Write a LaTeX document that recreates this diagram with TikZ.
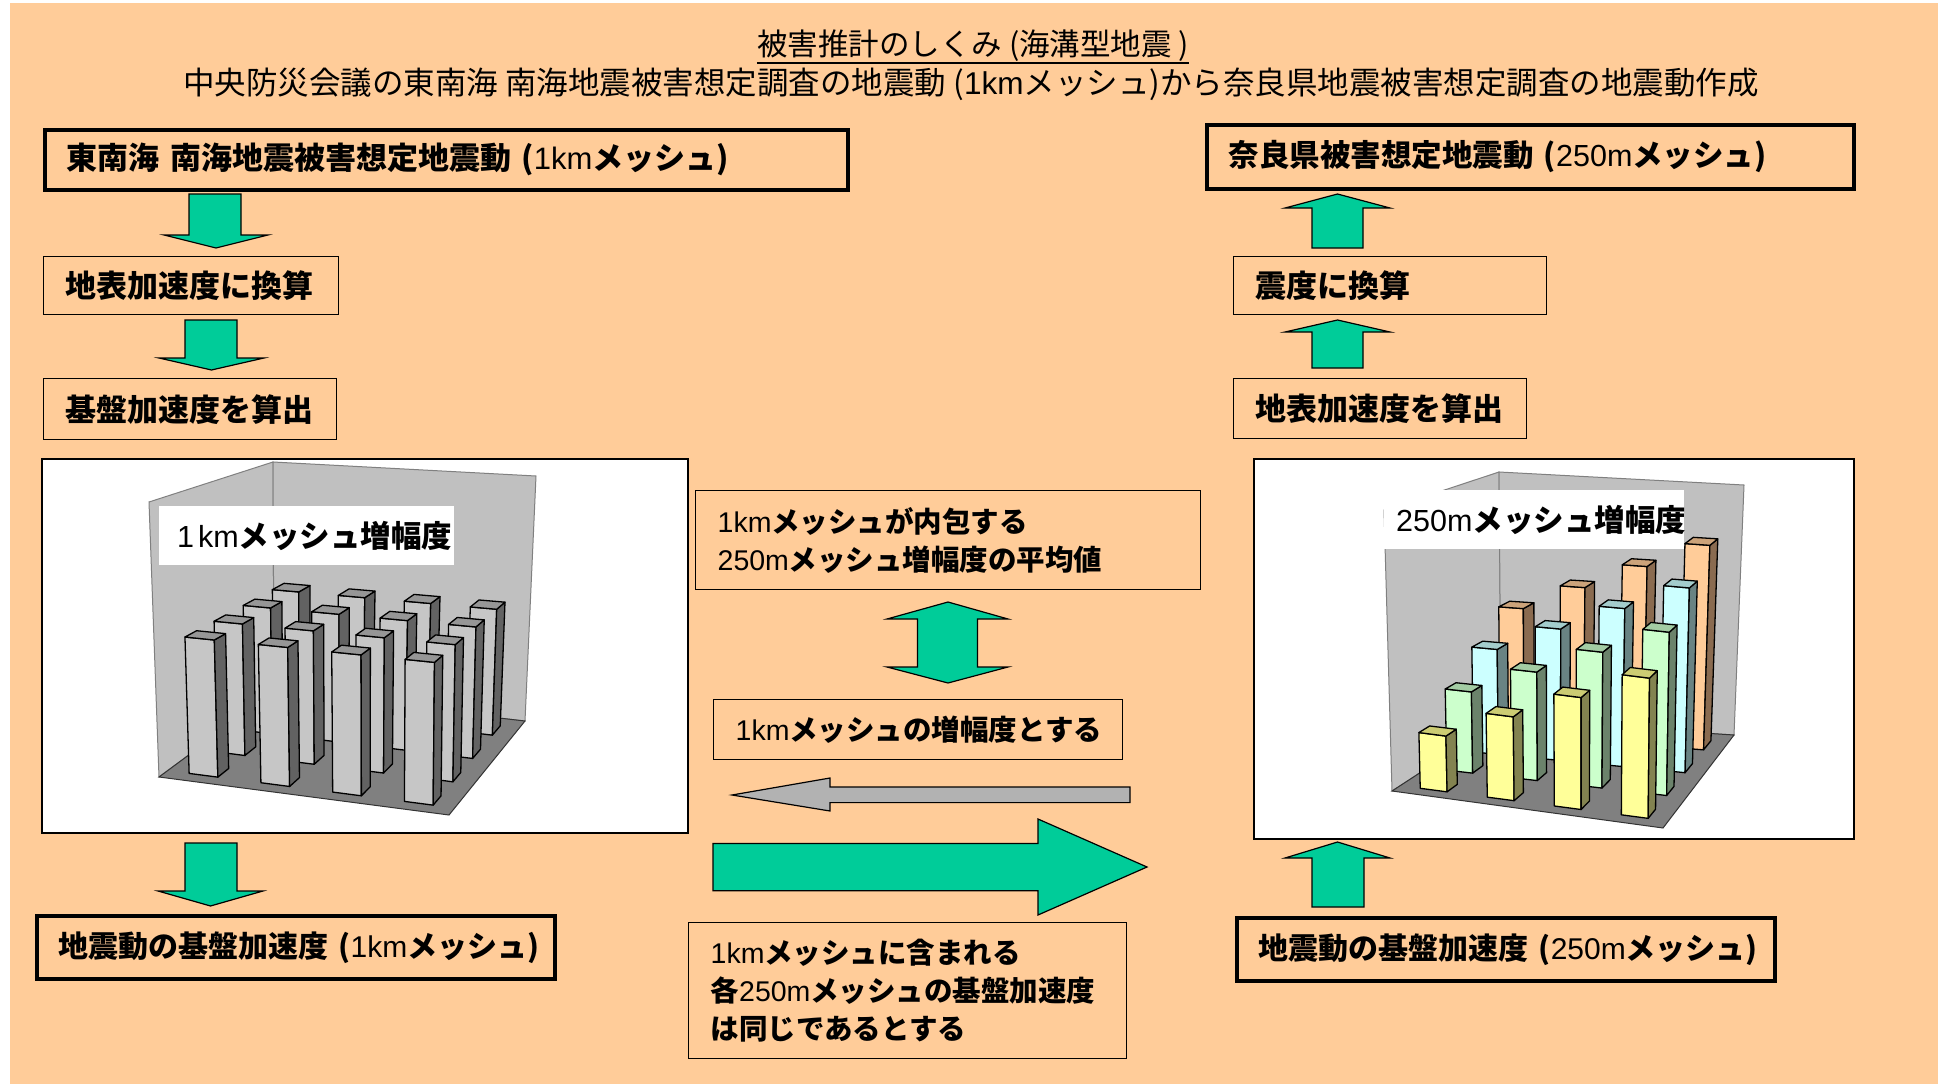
\documentclass[tikz,border=0pt]{standalone}
\usepackage{fontspec}
\setmainfont{Noto Sans CJK JP}
\newfontfamily\lat{Liberation Sans}
\newcommand\nm[1]{{\lat\mdseries #1}}
\definecolor{peach}{HTML}{FFCC99}
\definecolor{grn}{HTML}{00CC99}
\definecolor{garw}{HTML}{B2B2B2}
\definecolor{wall}{HTML}{C0C0C0}
\definecolor{floorc}{HTML}{808080}
\definecolor{gF}{HTML}{C6C6C6}
\definecolor{gS}{HTML}{626262}
\definecolor{gT}{HTML}{969696}
\definecolor{yeF}{HTML}{FFFF99}
\definecolor{yeS}{HTML}{838350}
\definecolor{yeT}{HTML}{CCCC73}
\definecolor{grF}{HTML}{CCFFCC}
\definecolor{grS}{HTML}{6B836B}
\definecolor{grT}{HTML}{A3CCA3}
\definecolor{cyF}{HTML}{CCFFFF}
\definecolor{cyS}{HTML}{698383}
\definecolor{cyT}{HTML}{A3CCCC}
\definecolor{pkF}{HTML}{FFCC99}
\definecolor{pkS}{HTML}{8A6B50}
\definecolor{pkT}{HTML}{CCA37A}
\newcommand\setfloor[8]{\def\fFLx{#1}\def\fFLy{#2}\def\fFRx{#3}\def\fFRy{#4}\def\fBRx{#5}\def\fBRy{#6}\def\fBLx{#7}\def\fBLy{#8}}
\newcommand\setceil[8]{\def\cFLx{#1}\def\cFLy{#2}\def\cFRx{#3}\def\cFRy{#4}\def\cBRx{#5}\def\cBRy{#6}\def\cBLx{#7}\def\cBLy{#8}}
\newcommand\tp[4]{%
 \pgfmathsetmacro\tpa{(1-(#2))*(1-(#3))}%
 \pgfmathsetmacro\tpb{(#2)*(1-(#3))}%
 \pgfmathsetmacro\tpc{(1-(#2))*(#3)}%
 \pgfmathsetmacro\tpd{(#2)*(#3)}%
 \pgfmathsetmacro\tpx{(1-(#4))*(\tpa*\fFLx+\tpb*\fFRx+\tpc*\fBLx+\tpd*\fBRx)+(#4)*(\tpa*\cFLx+\tpb*\cFRx+\tpc*\cBLx+\tpd*\cBRx)}%
 \pgfmathsetmacro\tpy{(1-(#4))*(\tpa*\fFLy+\tpb*\fFRy+\tpc*\fBLy+\tpd*\fBRy)+(#4)*(\tpa*\cFLy+\tpb*\cFRy+\tpc*\cBLy+\tpd*\cBRy)}%
 \coordinate (#1) at (\tpx,\tpy);%
}
\newcommand\chartbar[6]{%
 \pgfmathsetmacro\ua{((#1)+0.3)/4}\pgfmathsetmacro\ub{((#1)+0.7)/4}%
 \pgfmathsetmacro\va{((#2)+0.3)/4}\pgfmathsetmacro\vb{((#2)+0.7)/4}%
 \tp{pA}{\ua}{\va}{0}\tp{pB}{\ub}{\va}{0}\tp{pC}{\ub}{\vb}{0}%
 \tp{qA}{\ua}{\va}{#3}\tp{qB}{\ub}{\va}{#3}\tp{qC}{\ub}{\vb}{#3}\tp{qD}{\ua}{\vb}{#3}%
 \draw[barline, fill=#4] (pA) -- (pB) -- (qB) -- (qA) -- cycle;
 \draw[barline, fill=#5] (pB) -- (pC) -- (qC) -- (qB) -- cycle;
 \draw[barline, fill=#6] (qA) -- (qB) -- (qC) -- (qD) -- cycle;
}
\newcommand\chartwalls{%
 \draw[wallst] (\cFLx,\cFLy) -- (\cBLx,\cBLy) -- (\fBLx,\fBLy) -- (\fFLx,\fFLy) -- cycle;
 \draw[wallst] (\cBLx,\cBLy) -- (\cBRx,\cBRy) -- (\fBRx,\fBRy) -- (\fBLx,\fBLy) -- cycle;
 \draw[floorst] (\fFLx,\fFLy) -- (\fFRx,\fFRy) -- (\fBRx,\fBRy) -- (\fBLx,\fBLy) -- cycle;
}
\newcommand\garr[7]{\draw[garrow] (#1,#3) -- (#2,#3) -- (#2,#4) -- (#6,#4) -- ({(#5+#6)/2},#7) -- (#5,#4) -- (#1,#4) -- cycle;}
\tikzset{
 bx/.style={draw=black, anchor=north west, inner xsep=22pt, inner ysep=0pt, align=left, font=\bfseries\fontsize{31}{37}\selectfont},
 mbx/.style={bx, font=\bfseries\fontsize{28.5}{38}\selectfont},
 thk/.style={line width=3.5pt},
 thn/.style={line width=1.3pt},
 chartframe/.style={draw=black, fill=white, line width=2pt, anchor=north west, inner sep=0pt},
 garrow/.style={fill=grn, draw=black, line width=1.2pt, line join=miter},
 barline/.style={draw=black, line width=1.3pt, line join=round},
 wallst/.style={fill=wall, draw=floorc, line width=1pt},
 floorst/.style={fill=floorc, draw=black!80, line width=1pt},
 lbl/.style={fill=white, anchor=north west, inner ysep=0pt, align=left, font=\bfseries\fontsize{30.5}{37}\selectfont},
 ttl/.style={inner sep=0pt},
}
\begin{document}
\begin{tikzpicture}[x=1pt,y=-1pt]
\fill[white] (0,0) rectangle (1941,1084);
\fill[peach] (10,3) rectangle (1938,1084);
\useasboundingbox (0,0) rectangle (1941,1084);

% titles
\node[ttl, font=\fontsize{30.5}{36}\selectfont] (T1) at (973,46) {被害推計のしくみ (海溝型地震 )};
\draw[line width=1.3pt] ([yshift=-1pt]T1.south west) -- ([yshift=-1pt]T1.south east);
\node[ttl, font=\fontsize{31.5}{36}\selectfont] (T2) at (971,84) {中央防災会議の東南海 南海地震被害想定調査の地震動 (\nm{1km}メッシュ)から奈良県地震被害想定調査の地震動作成};

% left column
\node[bx,thk,minimum width=803pt,minimum height=60pt,text width=759pt] (A) at (43,128) {\mbox{東南海 南海地震被害想定地震動 (\nm{1km}メッシュ)}};
\node[bx,thn,minimum width=295pt,minimum height=58pt,text width=251pt] (B) at (43,256) {\mbox{地表加速度に換算}};
\node[bx,thn,minimum width=293pt,minimum height=61pt,text width=249pt] (C) at (43,378) {\mbox{基盤加速度を算出}};
\node[chartframe,minimum width=646pt,minimum height=374pt] (L) at (41,458) {};
\node[bx,thk,minimum width=518pt,minimum height=63pt,text width=474pt,font=\bfseries\fontsize{30}{37}\selectfont] (D) at (35,914) {\mbox{地震動の基盤加速度 (\nm{1km}メッシュ)}};

% right column
\node[bx,thk,minimum width=647pt,minimum height=64pt,text width=603pt,font=\bfseries\fontsize{30.5}{37}\selectfont] (E) at (1205,123) {\mbox{奈良県被害想定地震動 (\nm{250m}メッシュ)}};
\node[bx,thn,minimum width=313pt,minimum height=58pt,text width=269pt] (F) at (1233,256) {\mbox{震度に換算}};
\node[bx,thn,minimum width=293pt,minimum height=60pt,text width=249pt] (G) at (1233,378) {\mbox{地表加速度を算出}};
\node[chartframe,minimum width=600pt,minimum height=380pt] (R) at (1253,458) {};
\node[bx,thk,minimum width=538pt,minimum height=63pt,text width=494pt,font=\bfseries\fontsize{30}{37}\selectfont] (H) at (1235,916) {\mbox{地震動の基盤加速度 (\nm{250m}メッシュ)}};

% middle
\node[mbx,thn,minimum width=505pt,minimum height=99pt,text width=461pt] (M1) at (695,490) {\nm{1km}メッシュが内包する\\\nm{250m}メッシュ増幅度の平均値};
\node[mbx,thn,minimum width=409pt,minimum height=60pt,text width=365pt] (M2) at (713,699) {\mbox{\nm{1km}メッシュの増幅度とする}};
\node[mbx,thn,minimum width=438pt,minimum height=136pt,text width=394pt] (M3) at (688,922) {\nm{1km}メッシュに含まれる\\各\nm{250m}メッシュの基盤加速度\\は同じであるとする};

% green block arrows
\garr{189}{241}{194}{235}{164}{268}{248}
\garr{185}{237}{320}{358}{159}{264}{370}
\garr{185}{237}{843}{891}{158}{263}{906}
\garr{1312}{1363}{248}{208}{1285}{1390}{194}
\garr{1312}{1363}{368}{332}{1285}{1390}{320}
\garr{1312}{1364}{907}{858}{1285}{1390}{842}
\draw[garrow] (948,602) -- (1008,619) -- (977.5,619) -- (977.5,667) -- (1008,667) -- (948,683) -- (887,667) -- (917.5,667) -- (917.5,619) -- (887,619) -- cycle;
\draw[fill=garw, draw=black, line width=1.2pt] (1130,787) -- (830,787) -- (830,778) -- (732,795) -- (830,811) -- (830,802.6) -- (1130,802.6) -- cycle;
\draw[garrow] (713,843.5) -- (1038,843.5) -- (1038,819) -- (1147,867) -- (1038,915) -- (1038,890.7) -- (713,890.7) -- cycle;

% left chart
\begin{scope}
\setfloor{159}{777}{449}{815}{525}{721}{274}{692}
\setceil{149}{502}{452}{525}{536}{476}{273}{462}
\chartwalls
\foreach \j in {3,2,1,0} {\foreach \i in {0,1,2,3} {\chartbar{\i}{\j}{0.5}{gF}{gS}{gT}}}
\node[lbl,minimum width=295pt,minimum height=59pt,inner xsep=18pt,text width=259pt] (LL) at (159,506) {\mbox{\nm{1\hspace{4pt}km}メッシュ増幅度}};
\end{scope}

% right chart
\begin{scope}
\setfloor{1392}{791}{1663}{828}{1734}{735}{1501}{720}
\setceil{1384}{510}{1666}{545}{1744}{485}{1499}{472}
\chartwalls
\foreach \j/\cf/\cs/\ct in {3/pkF/pkS/pkT,2/cyF/cyS/cyT,1/grF/grS/grT,0/yeF/yeS/yeT} {\foreach \i in {0,1,2,3} {\pgfmathsetmacro\ww{0.2+0.1*(\i+\j)}\chartbar{\i}{\j}{\ww}{\cf}{\cs}{\ct}}}
\node[lbl,minimum width=300pt,minimum height=59pt,inner xsep=12.5pt,text width=275pt] (RL) at (1383.5,490) {\mbox{\nm{250m}メッシュ増幅度}};
\end{scope}
\end{tikzpicture}
\end{document}
